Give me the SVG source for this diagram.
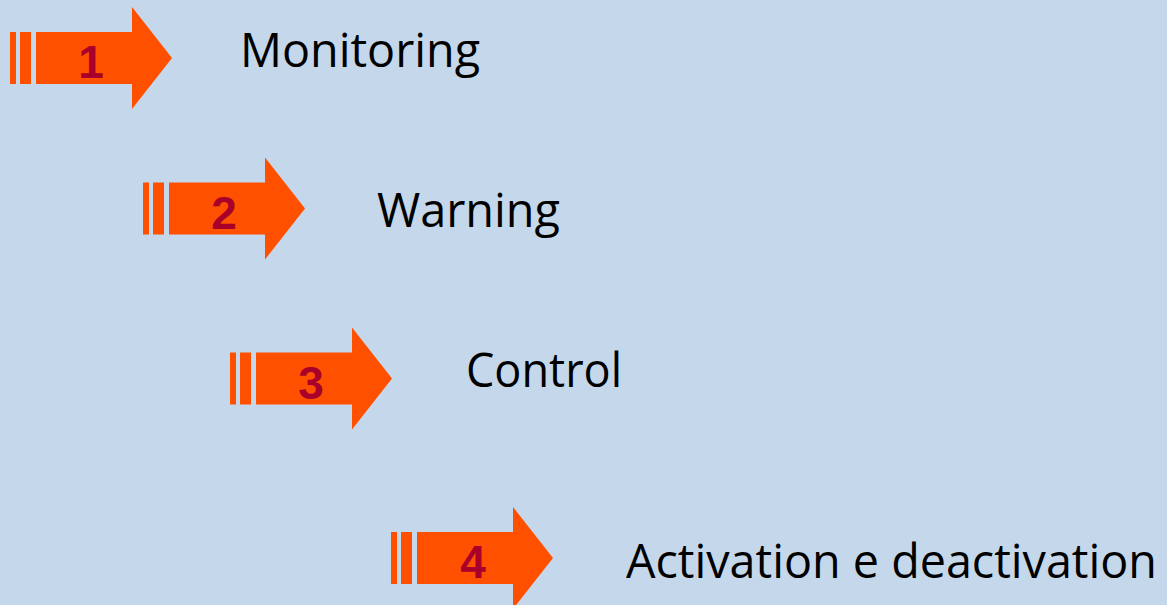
<svg xmlns="http://www.w3.org/2000/svg" width="1167" height="605" viewBox="0 0 1167 605">
<defs>
<style>
.arr{fill:#ff5000}
.num{font-family:"Liberation Sans",Arial,sans-serif;font-weight:bold;font-size:46px;fill:#a8002a;text-anchor:middle}
.lbl{font-family:"Open Sans","Liberation Sans",sans-serif;font-size:48px;fill:#000}
</style>
<g id="arrowShape">
<rect class="arr" x="-26" y="-26" width="6" height="52"/>
<rect class="arr" x="-16" y="-26" width="11" height="52"/>
<path class="arr" d="M0,-26 H96 V-51 L136,0 L96,51 V26 H0 Z"/>
</g>
</defs>
<rect width="1167" height="605" fill="#c5d7ea"/>
<g id="connectors"></g>
<g id="node1">
<use href="#arrowShape" transform="translate(36,58)"/>
<text class="num" x="91" y="78">1</text>
<text class="lbl" x="240" y="67" textLength="240" lengthAdjust="spacingAndGlyphs">Monitoring</text>
</g>
<g id="node2">
<use href="#arrowShape" transform="translate(169,208.5)"/>
<text class="num" x="224" y="228.5">2</text>
<text class="lbl" x="377" y="227" textLength="183" lengthAdjust="spacingAndGlyphs">Warning</text>
</g>
<g id="node3">
<use href="#arrowShape" transform="translate(256,378.5)"/>
<text class="num" x="311" y="398.5">3</text>
<text class="lbl" x="466" y="387" textLength="156" lengthAdjust="spacingAndGlyphs">Control</text>
</g>
<g id="node4">
<use href="#arrowShape" transform="translate(417,558)"/>
<text class="num" x="473" y="578">4</text>
<text class="lbl" x="626" y="578" textLength="531" lengthAdjust="spacingAndGlyphs">Activation e deactivation</text>
</g>
</svg>
